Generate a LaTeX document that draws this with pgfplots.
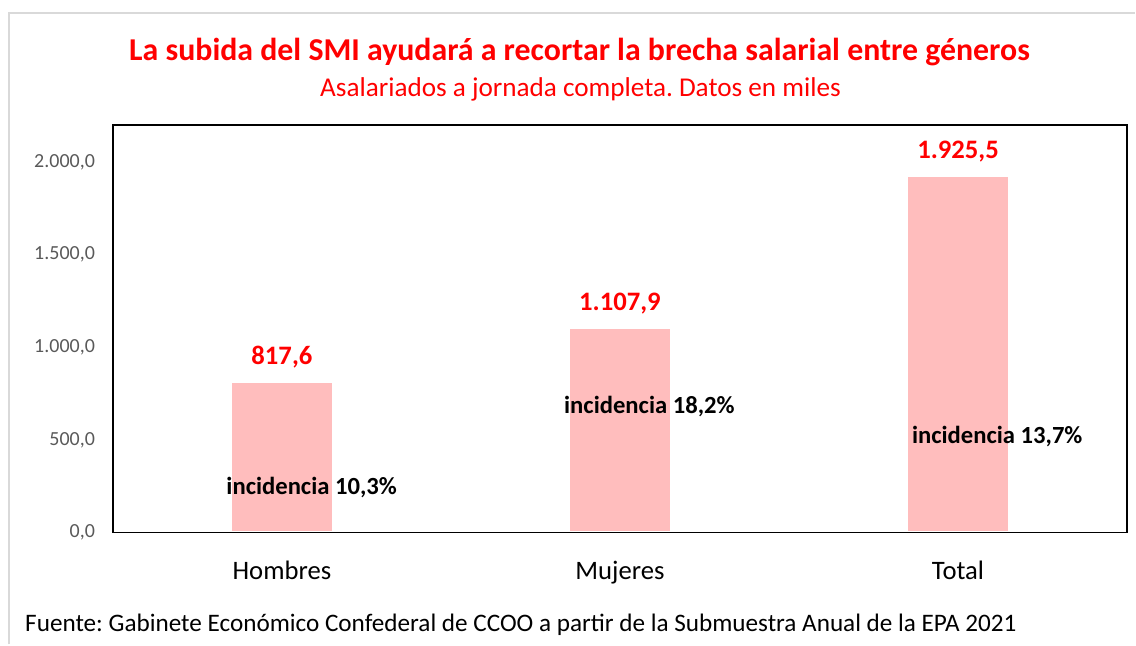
\documentclass[border=0pt]{standalone}
\usepackage{pgfplots}
\pgfplotsset{compat=1.18}
\usepackage{fontspec}
\setmainfont{Carlito}
\definecolor{barpink}{RGB}{255,189,189}
\definecolor{tickgray}{RGB}{89,89,89}
\definecolor{framegray}{RGB}{217,217,217}
\begin{document}
\frenchspacing
\begin{tikzpicture}
\path (0pt,0pt) rectangle (852pt,483.75pt);
\draw[framegray, line width=1.5pt] (6.75pt,0pt) -- (6.75pt,474pt) -- (852pt,474pt);
\node[font=\bfseries\fontsize{23.9}{28}\selectfont, text=red] at (435pt,445pt) {La subida del SMI ayudará a recortar la brecha salarial entre géneros};
\node[font=\fontsize{20.4}{24}\selectfont, text=red] at (435.75pt,417pt) {Asalariados a jornada completa. Datos en miles};
\node[font=\fontsize{18.9}{22}\selectfont, anchor=west, inner sep=0pt] at (18.75pt,15pt) {Fuente: Gabinete Económico Confederal de CCOO a partir de la Submuestra Anual de la EPA 2021};
\begin{axis}[
  at={(84.75pt,84pt)}, anchor=south west,
  scale only axis, width=761.25pt, height=306pt,
  xmin=-0.5, xmax=2.5, ymin=0, ymax=2200,
  axis on top,
  ytick={0,500,1000,1500,2000},
  xtick={0,1,2}, xticklabels={Hombres,Mujeres,Total},
  major tick length=0pt,
  axis line style={line width=1.3pt, black},
  yticklabel style={font=\fontsize{15}{18}\selectfont, text=tickgray, xshift=-10pt},
  xticklabel style={font=\fontsize{20}{24}\selectfont, anchor=base, yshift=-35.25pt},
  y tick label style={/pgf/number format/.cd, fixed, fixed zerofill, precision=1, use comma, 1000 sep={.}, assume math mode=true},
  clip=false,
  nodes near coords,
  nodes near coords style={font=\bfseries\fontsize{20}{24}\selectfont, text=red, anchor=center, yshift=18pt,
    /pgf/number format/.cd, fixed, fixed zerofill, precision=1, use comma, 1000 sep={.}, assume math mode=true},
]
\addplot[ybar, bar width=77.5pt, fill=barpink, draw=white, line width=2.5pt] coordinates {(0,817.6) (1,1107.9) (2,1925.5)};
\node[font=\bfseries\fontsize{18.5}{22}\selectfont] at (axis cs:0.088,243) {incidencia 10,3\%};
\node[font=\bfseries\fontsize{18.5}{22}\selectfont] at (axis cs:1.087,681) {incidencia 18,2\%};
\node[font=\bfseries\fontsize{18.5}{22}\selectfont] at (axis cs:2.116,519) {incidencia 13,7\%};
\end{axis}
\end{tikzpicture}
\end{document}
